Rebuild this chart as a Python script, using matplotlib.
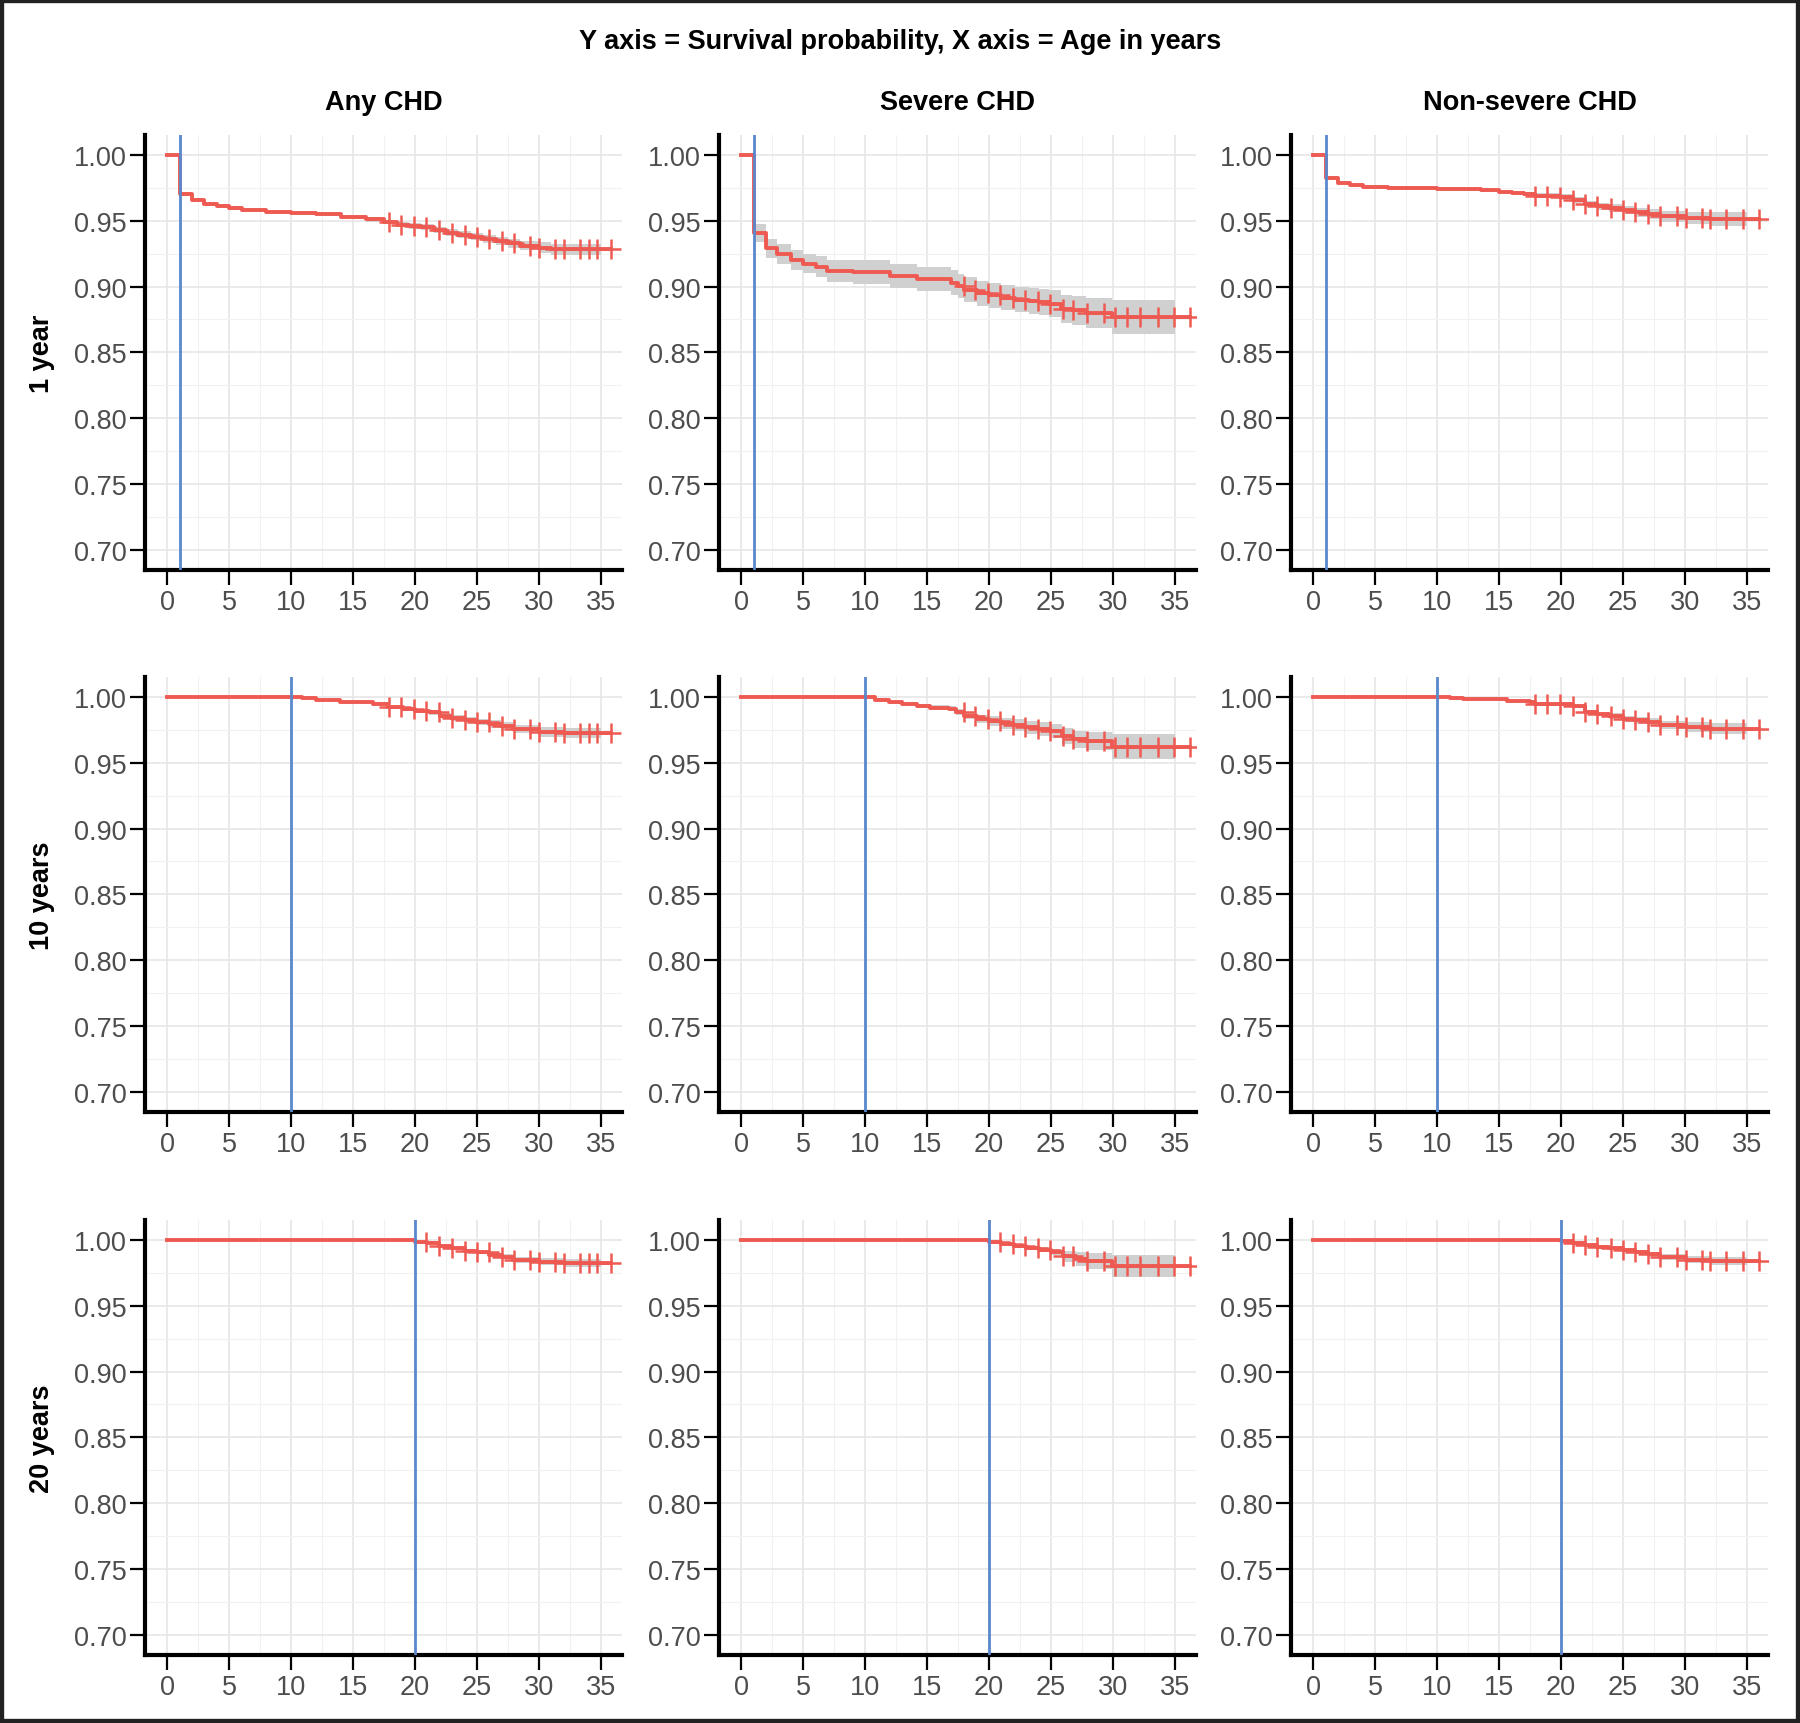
'''
Landmark Kaplan-Meier survival curves for CHD groups, 3x3 grid
'''
import matplotlib
matplotlib.use('Agg')
import matplotlib.pyplot as plt
import matplotlib.patches as patches
import numpy as np

plt.rcParams['font.family'] = ['Liberation Sans', 'DejaVu Sans']

col_titles = ['Any CHD', 'Severe CHD', 'Non-severe CHD']
row_titles = ['1 year', '10 years', '20 years']
landmarks = [1, 10, 20]

x_ticks = [0, 5, 10, 15, 20, 25, 30, 35]
y_ticks = [0.70, 0.75, 0.80, 0.85, 0.90, 0.95, 1.00]

#censor times per column (row 3 starts after 20)
censor_any = [17.9, 18.9, 19.95, 20.9, 21.95, 22.95, 24, 25, 25.95, 27, 28,
              29.3, 30, 31.3, 32.05, 33.3, 34.05, 34.7, 35.8]
censor_severe = [17.95, 18.9, 19.9, 20.9, 21.9, 22.9, 23.95, 24.95, 26, 26.8,
                 27.9, 29.3, 30.2, 31.1, 32.2, 33.6, 34.9, 36.2]
censor_nonsev = [17.9, 18.9, 19.9, 21, 21.9, 22.9, 24, 25, 26, 27, 27.95,
                 29.35, 30.1, 31.4, 32, 33.3, 34.7, 36]

#Row 1 (landmark 1 year)
t_any_1 = [0, 1, 2, 3, 4, 5, 6, 8, 10, 12, 14, 16, 17.5, 18.5, 19.5, 20.5,
           21.5, 22.5, 23.5, 24.5, 25.5, 26.5, 27.5, 28.5, 30, 31]
s_any_1 = [1.0, .970, .966, .963, .961, .9595, .958, .957, .956, .955, .953,
           .951, .949, .947, .946, .945, .943, .941, .9395, .938, .936, .9345,
           .933, .931, .9295, .9285]
ci_any_1 = [0, .0015, .0015, .0015, .0015, .0015, .0015, .0015, .0015, .0015,
            .0015, .0016, .0018, .002, .002, .0022, .0024, .0025, .0026, .0028,
            .003, .0032, .0034, .0036, .004, .0042]

t_sev_1 = [0, 1, 2, 2.9, 4, 5, 6, 6.9, 9, 12, 14.2, 16.9, 17.5, 18, 19, 20, 21,
           22.1, 23.2, 24, 24.8, 25.8, 26.7, 27.8, 29.9]
s_sev_1 = [1.0, .9405, .929, .9245, .920, .9175, .915, .912, .911, .908, .9055,
           .903, .9005, .8975, .895, .8935, .8915, .890, .889, .888, .887, .883,
           .882, .880, .877]
ci_sev_1 = [0, .007, .007, .0075, .0075, .0075, .008, .0085, .009, .009, .009,
            .0092, .0093, .0094, .0095, .0095, .0096, .0097, .0098, .0099, .01,
            .0105, .011, .0115, .013]

t_non_1 = [0, 1, 2, 2.95, 4, 6, 8, 10, 12.1, 13.5, 15, 16, 17, 17.9, 19.9, 21,
           21.9, 22.9, 23.9, 25, 26, 27, 27.95, 30.1, 32]
s_non_1 = [1.0, .9825, .979, .977, .9755, .975, .9747, .9744, .974, .9732,
           .9722, .9712, .9703, .969, .968, .966, .9627, .961, .9594, .958,
           .9565, .955, .9533, .952, .9513]
ci_non_1 = [0, .0012, .0012, .0012, .0012, .0012, .0012, .0012, .0013, .0013,
            .0014, .0015, .0016, .0018, .002, .0022, .0025, .0027, .003, .0032,
            .0035, .0037, .004, .0045, .005]

#Row 2 (landmark 10 years)
t_any_10 = [0, 10.9, 12, 13.9, 16.6, 17.8, 19, 20, 21.1, 22, 22.9, 24, 24.9,
            26, 26.9, 27.9, 30, 32]
s_any_10 = [1.0, .9992, .9977, .9964, .995, .9921, .991, .9896, .9883, .9858,
            .984, .9827, .981, .9794, .978, .9756, .9736, .9726]
ci_any_10 = [0, .0004, .0006, .0008, .001, .0012, .0014, .0016, .0018, .002,
             .0022, .0024, .0026, .0028, .003, .0033, .0037, .004]

t_sev_10 = [0, 10.8, 11.9, 13, 14.2, 15.2, 16.8, 17.3, 18, 19, 20, 21, 21.9,
            22.9, 23.95, 24.95, 25.9, 26.8, 27.8, 29.9]
s_sev_10 = [1.0, .998, .996, .995, .9934, .992, .991, .9886, .9856, .9835,
            .9817, .980, .9787, .977, .9756, .974, .9704, .968, .9665, .9621]
ci_sev_10 = [0, .0008, .001, .0012, .0014, .0016, .0018, .002, .0025, .003,
             .0035, .004, .0045, .005, .0052, .0055, .006, .0065, .007, .0095]

t_non_10 = [0, 11, 12.1, 15.6, 17.5, 17.9, 21, 21.9, 22.9, 23.9, 25, 25.9, 27,
            27.95, 30.1, 32]
s_non_10 = [1.0, .9993, .9985, .997, .996, .9944, .9935, .9886, .987, .9855,
            .9835, .9822, .981, .9787, .9774, .976]
ci_non_10 = [0, .0003, .0005, .0007, .0009, .001, .0012, .0016, .0018, .002,
             .0024, .0027, .003, .0033, .0037, .004]

#Row 3 (landmark 20 years)
t_any_20 = [0, 20, 21, 21.9, 22.95, 24, 25, 26, 27, 27.9, 30, 32]
s_any_20 = [1.0, .9988, .9977, .9957, .9937, .9919, .9906, .9886, .9872, .985,
            .9835, .9823]
ci_any_20 = [0, .0003, .0005, .0008, .001, .0012, .0014, .0017, .002, .0023,
             .0026, .003]

t_sev_20 = [0, 20, 21, 22, 23, 24, 25, 26, 27, 27.8, 29.9]
s_sev_20 = [1.0, .9987, .997, .9957, .994, .9926, .991, .9876, .9855, .9843,
            .980]
ci_sev_20 = [0, .0005, .0008, .001, .0015, .002, .0025, .004, .005, .006, .0085]

t_non_20 = [0, 20, 21, 21.9, 22.9, 23.9, 25, 26, 27, 27.95, 30.1, 32]
s_non_20 = [1.0, .9993, .998, .9965, .995, .994, .9925, .991, .9892, .987,
            .985, .9838]
ci_non_20 = [0, .0003, .0005, .0007, .0009, .0011, .0013, .0016, .0019, .0022,
             .0026, .003]

panels = [
    [(t_any_1, s_any_1, ci_any_1), (t_sev_1, s_sev_1, ci_sev_1), (t_non_1, s_non_1, ci_non_1)],
    [(t_any_10, s_any_10, ci_any_10), (t_sev_10, s_sev_10, ci_sev_10), (t_non_10, s_non_10, ci_non_10)],
    [(t_any_20, s_any_20, ci_any_20), (t_sev_20, s_sev_20, ci_sev_20), (t_non_20, s_non_20, ci_non_20)],
]
censors = [censor_any, censor_severe, censor_nonsev]

RED = '#EE5A52'
BLUE = '#5B87CD'
BAND = '#D0D0D0'

W, H = 1800, 1724
fig = plt.figure(figsize=(W / 100, H / 100), dpi=100)

col_left = [145, 719, 1291]
row_top = [136, 678, 1221]
ax_w, ax_h = 477, 435


def value_at(t, s, x):
    #step function lookup (right-continuous)
    idx = np.searchsorted(t, x, side='right') - 1
    return np.asarray(s)[idx]


for r in range(3):
    for c in range(3):
        left = col_left[c] / W
        bottom = (H - row_top[r] - ax_h) / H
        ax = fig.add_axes([left, bottom, ax_w / W, ax_h / H])

        t, s, ci = panels[r][c]
        lm = landmarks[r]

        #censor marks after the landmark
        cens = [x for x in censors[c] if x > lm + 0.5]
        t_end = max(cens)
        band_end = 35.0

        #confidence band from the landmark on
        tb = np.array([x for x in t if x >= lm] + [band_end])
        sb = value_at(t, s, tb)
        cb = value_at(t, ci, tb)
        ax.fill_between(tb, sb - cb, sb + cb, step='post', color=BAND,
                        lw=0, zorder=2)

        #survival curve
        tl = list(t) + [t_end]
        sl = list(s) + [s[-1]]
        ax.step(tl, sl, where='post', color=RED, lw=2.8, zorder=3)

        ax.plot(cens, value_at(t, s, np.array(cens)), linestyle='none',
                marker='+', markersize=14, markeredgewidth=1.8, color=RED,
                zorder=4)

        ax.axvline(lm, color=BLUE, lw=2.0, zorder=5)

        ax.set_xlim(-1.8, 36.7)
        ax.set_ylim(0.6845, 1.0152)
        ax.set_xticks(x_ticks)
        ax.set_yticks(y_ticks)
        ax.set_yticklabels(['%.2f' % v for v in y_ticks])
        ax.set_xticks(np.arange(2.5, 36, 5), minor=True)
        ax.set_yticks(np.arange(0.725, 1.0, 0.05), minor=True)

        ax.grid(which='major', color='#E6E6E6', lw=1.2, zorder=0)
        ax.grid(which='minor', color='#F1F1F1', lw=0.8, zorder=0)
        ax.set_axisbelow(True)

        for side in ['top', 'right']:
            ax.spines[side].set_visible(False)
        for side in ['left', 'bottom']:
            ax.spines[side].set_linewidth(3)
            ax.spines[side].set_color('black')
            ax.spines[side].set_capstyle('projecting')

        ax.tick_params(axis='both', which='major', length=11, width=1.6,
                       color='black', labelcolor='#4D4D4D', labelsize=19.5,
                       pad=2)
        ax.tick_params(axis='x', which='major', pad=3)
        ax.tick_params(which='minor', length=0)

        if r == 0:
            fig.text((col_left[c] + ax_w / 2) / W, 1 - 103 / H, col_titles[c],
                     fontsize=19.5, fontweight='bold', ha='center',
                     va='center')

    yc = 1 - (row_top[r] + ax_h / 2) / H
    fig.text(42 / W, yc, row_titles[r], rotation=90, fontsize=19.5,
             fontweight='bold', ha='center', va='center')

fig.text(0.5, 1 - 42 / H, 'Y axis = Survival probability, X axis = Age in years',
         fontsize=19.5, fontweight='bold', ha='center', va='center')

#outer frame
fig.patches.append(patches.Rectangle((0, 0), 1, 1, transform=fig.transFigure,
                                     fill=False, lw=6, edgecolor='#222222'))

fig.savefig('out.png', dpi=100)
